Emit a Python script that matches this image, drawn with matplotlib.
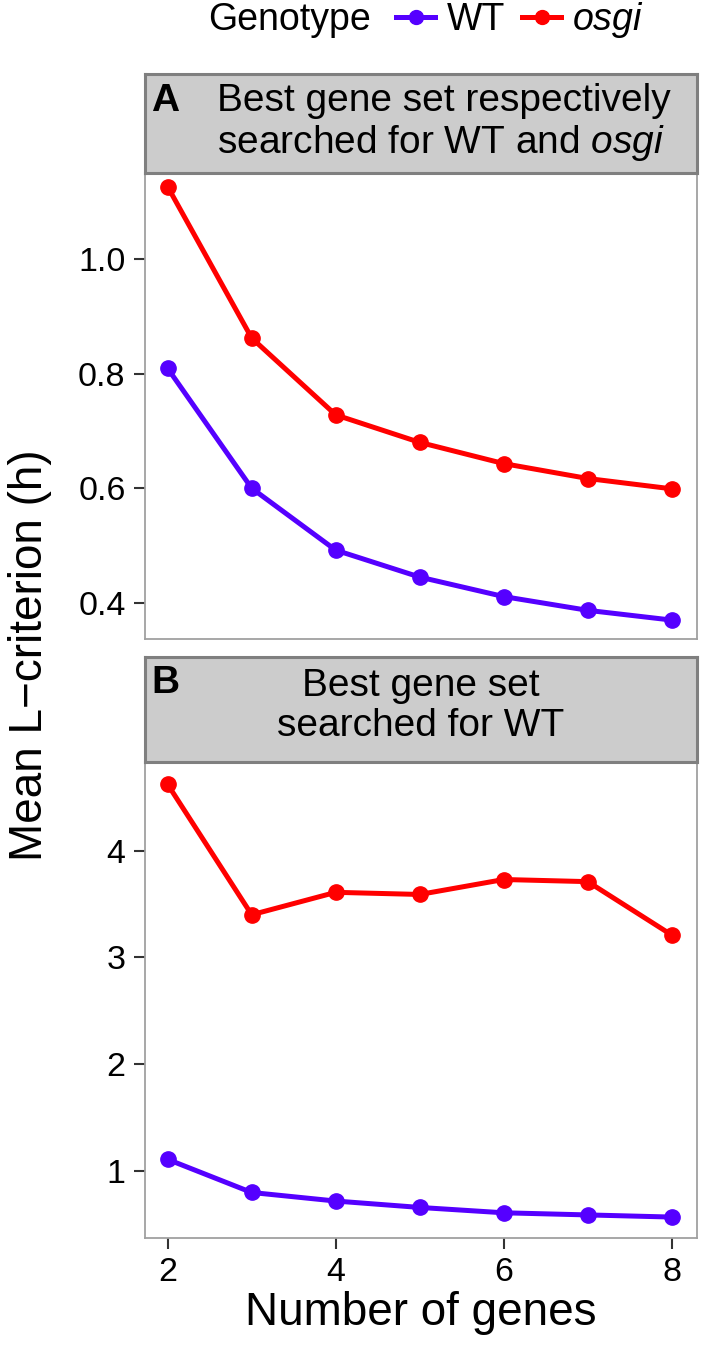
import matplotlib
matplotlib.use("Agg")
import matplotlib.pyplot as plt
from matplotlib.lines import Line2D

plt.rcParams['font.family'] = ['Liberation Sans', 'DejaVu Sans']
plt.rcParams['mathtext.fontset'] = 'custom'
plt.rcParams['mathtext.rm'] = 'Liberation Sans'
plt.rcParams['mathtext.it'] = 'Liberation Sans:italic'

# ---- data ----
n_genes = [2, 3, 4, 5, 6, 7, 8]
a_wt = [0.809, 0.600, 0.492, 0.445, 0.411, 0.387, 0.370]
a_osgi = [1.126, 0.862, 0.728, 0.680, 0.643, 0.617, 0.599]
b_wt = [1.11, 0.80, 0.72, 0.66, 0.61, 0.59, 0.57]
b_osgi = [4.62, 3.40, 3.61, 3.59, 3.73, 3.71, 3.21]
a_yticks = [0.4, 0.6, 0.8, 1.0]
b_yticks = [1, 2, 3, 4]
x_ticks = [2, 4, 6, 8]
genotypes = ['WT', 'osgi']

WT_C = '#5500FF'
OS_C = '#FF0000'

W, H = 702, 1347
fig = plt.figure(figsize=(W / 100, H / 100), dpi=100)


def rect(x0, y0, x1, y1):
    return [x0 / W, 1 - y1 / H, (x1 - x0) / W, (y1 - y0) / H]


LW = 3.6
MS = 11
STRIP_FS = 28


def style_panel(ax):
    for s in ax.spines.values():
        s.set_color('#A0A0A0')
        s.set_linewidth(1.3)
    ax.tick_params(axis='both', length=8, width=1.5, color='#333333',
                   labelsize=24.5, labelcolor='black', pad=6)


def make_strip(box, text, letter, cx, ha, y_letter, y_text):
    sax = fig.add_axes(rect(*box))
    sax.set_facecolor('#CCCCCC')
    sax.set_xticks([])
    sax.set_yticks([])
    for s in sax.spines.values():
        s.set_color('#7F7F7F')
        s.set_linewidth(2.2)
    fig.text((box[0] + 6) / W, 1 - y_letter / H, letter, fontsize=STRIP_FS,
             fontweight='bold', ha='left', va='center')
    fig.text(cx / W, 1 - y_text / H, text, fontsize=STRIP_FS, ha=ha,
             va='center', multialignment=ha, linespacing=1.15)


# Panel A
axA = fig.add_axes(rect(145, 173, 697, 639))
axA.plot(n_genes, a_wt, color=WT_C, lw=LW, marker='o', ms=MS)
axA.plot(n_genes, a_osgi, color=OS_C, lw=LW, marker='o', ms=MS)
axA.set_xlim(1.73, 8.30)
axA.set_ylim(0.337, 1.15)
axA.set_yticks(a_yticks)
axA.set_yticklabels([f'{v:.1f}' for v in a_yticks])
axA.set_xticks([])
style_panel(axA)
make_strip((145, 74, 697, 173),
           'Best gene set respectively\n' + r'searched for WT and $\mathit{osgi}$',
           'A', 217, 'left', 101, 123)

# Panel B
axB = fig.add_axes(rect(145, 762, 697, 1238))
axB.plot(n_genes, b_wt, color=WT_C, lw=LW, marker='o', ms=MS)
axB.plot(n_genes, b_osgi, color=OS_C, lw=LW, marker='o', ms=MS)
axB.set_xlim(1.73, 8.30)
axB.set_ylim(0.374, 4.83)
axB.set_yticks(b_yticks)
axB.set_xticks(x_ticks)
style_panel(axB)
axB.set_xlabel('Number of genes', fontsize=33, labelpad=2)
make_strip((145, 657, 697, 762), 'Best gene set\nsearched for WT',
           'B', 421, 'center', 683, 706)

# y label
fig.text(30 / W, 1 - 655 / H, 'Mean L\u2212criterion (h)', fontsize=33,
         rotation=90, ha='center', va='center')

# legend
LEG_FS = 27
fig.text(208 / W, 1 - 20 / H, 'Genotype', fontsize=LEG_FS, ha='left',
         va='center')
handles = [Line2D([], [], color=WT_C, lw=LW, marker='o', ms=10),
           Line2D([], [], color=OS_C, lw=LW, marker='o', ms=10)]
labels = ['WT', r'$\mathit{osgi}$']
fig.legend(handles, labels, loc='center left', ncol=2, frameon=False,
           bbox_to_anchor=(396 / W, 1 - 20 / H), fontsize=LEG_FS,
           handlelength=1.05, handletextpad=0.3, columnspacing=0.45,
           borderaxespad=0, borderpad=0)

fig.savefig('out.png', dpi=100)
